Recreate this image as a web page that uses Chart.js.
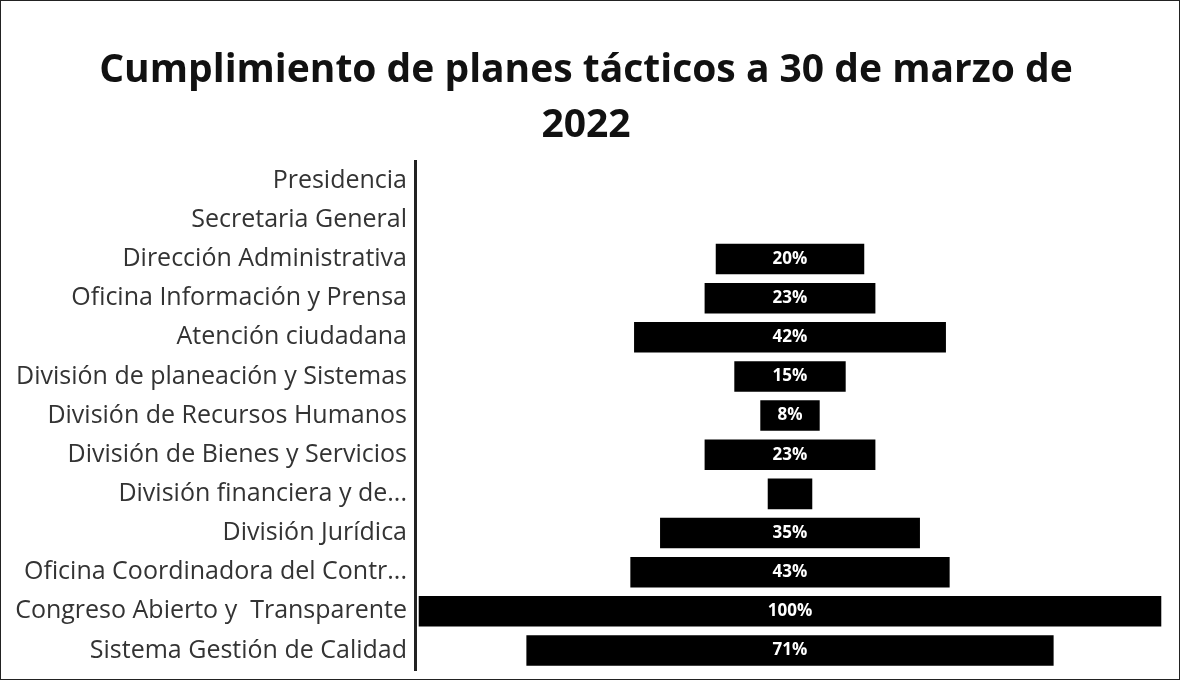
<!DOCTYPE html>
<html>
<head>
<meta charset="utf-8">
<script src="https://cdn.jsdelivr.net/npm/chart.js@4.4.1/dist/chart.umd.min.js"></script>
<style>
    html, body { margin: 0; padding: 0; background: #fff; }
    #wrap { width: 1178px; height: 678px; border: 1px solid #222; position: relative; }
    canvas { display: block; }
</style>
</head>
<body>
<div id="wrap"><canvas id="funnel_chart" width="1178" height="678"></canvas></div>
<script>
//
// DATA
//
const areas = [
    "Presidencia",
    "Secretaria General",
    "Dirección Administrativa",
    "Oficina Información y Prensa",
    "Atención ciudadana",
    "División de planeación y Sistemas",
    "División de Recursos Humanos",
    "División de Bienes y Servicios",
    "División financiera y de...",
    "División Jurídica",
    "Oficina Coordinadora del Contr...",
    "Congreso Abierto y  Transparente",
    "Sistema Gestión de Calidad"
];

// cumplimiento (%)
const cumplimiento = [0, 0, 20, 23, 42, 15, 8, 23, 6, 35, 43, 100, 71];

const title_lines = ["Cumplimiento de planes tácticos a 30 de marzo de", "2022"];

//
// FUNNEL: each bar floats around zero
//
const funnel_data = cumplimiento.map(v => [-v / 2, v / 2]);

// white % text in the middle of every bar
const center_labels = {
    id: "center_labels",
    afterDatasetsDraw(chart) {
        const ctx = chart.ctx;
        const meta = chart.getDatasetMeta(0);
        ctx.save();
        ctx.fillStyle = "#fff";
        ctx.font = "bold 17px 'Open Sans'";
        ctx.textAlign = "center";
        ctx.textBaseline = "middle";
        meta.data.forEach((bar, i) => {
            const v = cumplimiento[i];
            if (!v || v < 7) return;
            ctx.fillText(v + "%", (bar.x + bar.base) / 2, bar.y);
        });
        ctx.restore();
    }
};

new Chart(document.getElementById("funnel_chart"), {
    type: "bar",
    data: {
        labels: areas,
        datasets: [{
            data: funnel_data,
            backgroundColor: "#000",
            borderSkipped: false,
            barPercentage: 0.78,
            categoryPercentage: 1
        }]
    },
    options: {
        indexAxis: "y",
        responsive: false,
        animation: false,
        layout: { padding: { top: 43, right: 14, bottom: 9, left: 6 } },
        scales: {
            x: {
                display: false,
                min: -50.5,
                max: 50.5
            },
            y: {
                afterFit: (scale) => {
                    scale.width = 408;
                    scale.paddingTop = 0;
                    scale.paddingBottom = 0;
                },
                grid: { display: false, drawTicks: false },
                border: { display: true, color: "#222", width: 3 },
                ticks: {
                    color: "#333",
                    padding: 8,
                    font: { family: "'Open Sans'", size: 25 }
                }
            }
        },
        plugins: {
            legend: { display: false },
            tooltip: { enabled: false },
            title: {
                display: true,
                text: title_lines,
                color: "#111",
                font: { family: "'Open Sans'", size: 39, weight: "bold", lineHeight: 1.4 },
                padding: { top: 0, bottom: 8 }
            }
        }
    },
    plugins: [center_labels]
});
</script>
</body>
</html>
